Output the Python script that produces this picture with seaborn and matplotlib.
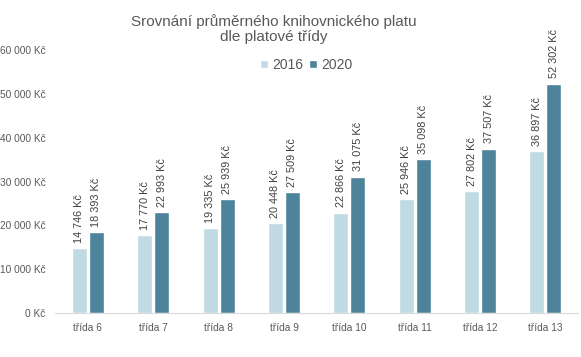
import matplotlib
matplotlib.use("Agg")
import matplotlib.pyplot as plt
import seaborn as sns
import pandas as pd

tridy = ["třída 6", "třída 7", "třída 8", "třída 9", "třída 10", "třída 11", "třída 12", "třída 13"]
plat_2016 = [14746, 17770, 19335, 20448, 22866, 25946, 27802, 36897]
plat_2020 = [18393, 22993, 25939, 27509, 31075, 35098, 37507, 52302]
roky = ["2016", "2020"]
barvy = ["#c0dae3", "#4e839c"]


def kc(v):
    return f"{v:,.0f}".replace(",", " ") + " Kč"


df = pd.DataFrame({
    "trida": tridy * 2,
    "plat": plat_2016 + plat_2020,
    "rok": [roky[0]] * len(tridy) + [roky[1]] * len(tridy),
})

sns.set_style("white")
plt.rcParams["font.family"] = ["Liberation Sans", "DejaVu Sans"]

fig = plt.figure(figsize=(5.81, 3.57), dpi=100)
ax = fig.add_axes([0.095, 0.123, 0.9, 0.737])

sns.barplot(data=df, x="trida", y="plat", hue="rok", palette=barvy,
            width=0.52, gap=0.12, ax=ax, saturation=1, legend=True)

for cont in ax.containers:
    ax.bar_label(cont, labels=[kc(v) for v in cont.datavalues], rotation=90,
                 padding=4, fontsize=7.8, color="#404040")

ax.set_ylim(0, 60000)
ax.set_xlim(-0.5, 7.5)
ax.set_yticks(range(0, 60001, 10000))
ax.set_yticklabels([kc(v) for v in range(0, 60001, 10000)])
ax.tick_params(axis="x", labelsize=7.3, colors="#595959", length=0, pad=7)
ax.tick_params(axis="y", labelsize=7.3, colors="#595959", length=0, pad=7)
ax.set_xlabel("")
ax.set_ylabel("")
for s in ["top", "right", "left"]:
    ax.spines[s].set_visible(False)
ax.spines["bottom"].set_color("#d9d9d9")

leg = ax.legend(loc="center", bbox_to_anchor=(0.48, 0.943), ncol=2, frameon=False,
                fontsize=10, handlelength=0.6, handleheight=0.6, handletextpad=0.3,
                columnspacing=0.4, labelcolor="#595959")

fig.text(0.472, 0.92, "Srovnání průměrného knihovnického platu\ndle platové třídy",
         ha="center", va="center", fontsize=11, color="#595959", linespacing=1.1)

fig.savefig("out.png", dpi=100)
